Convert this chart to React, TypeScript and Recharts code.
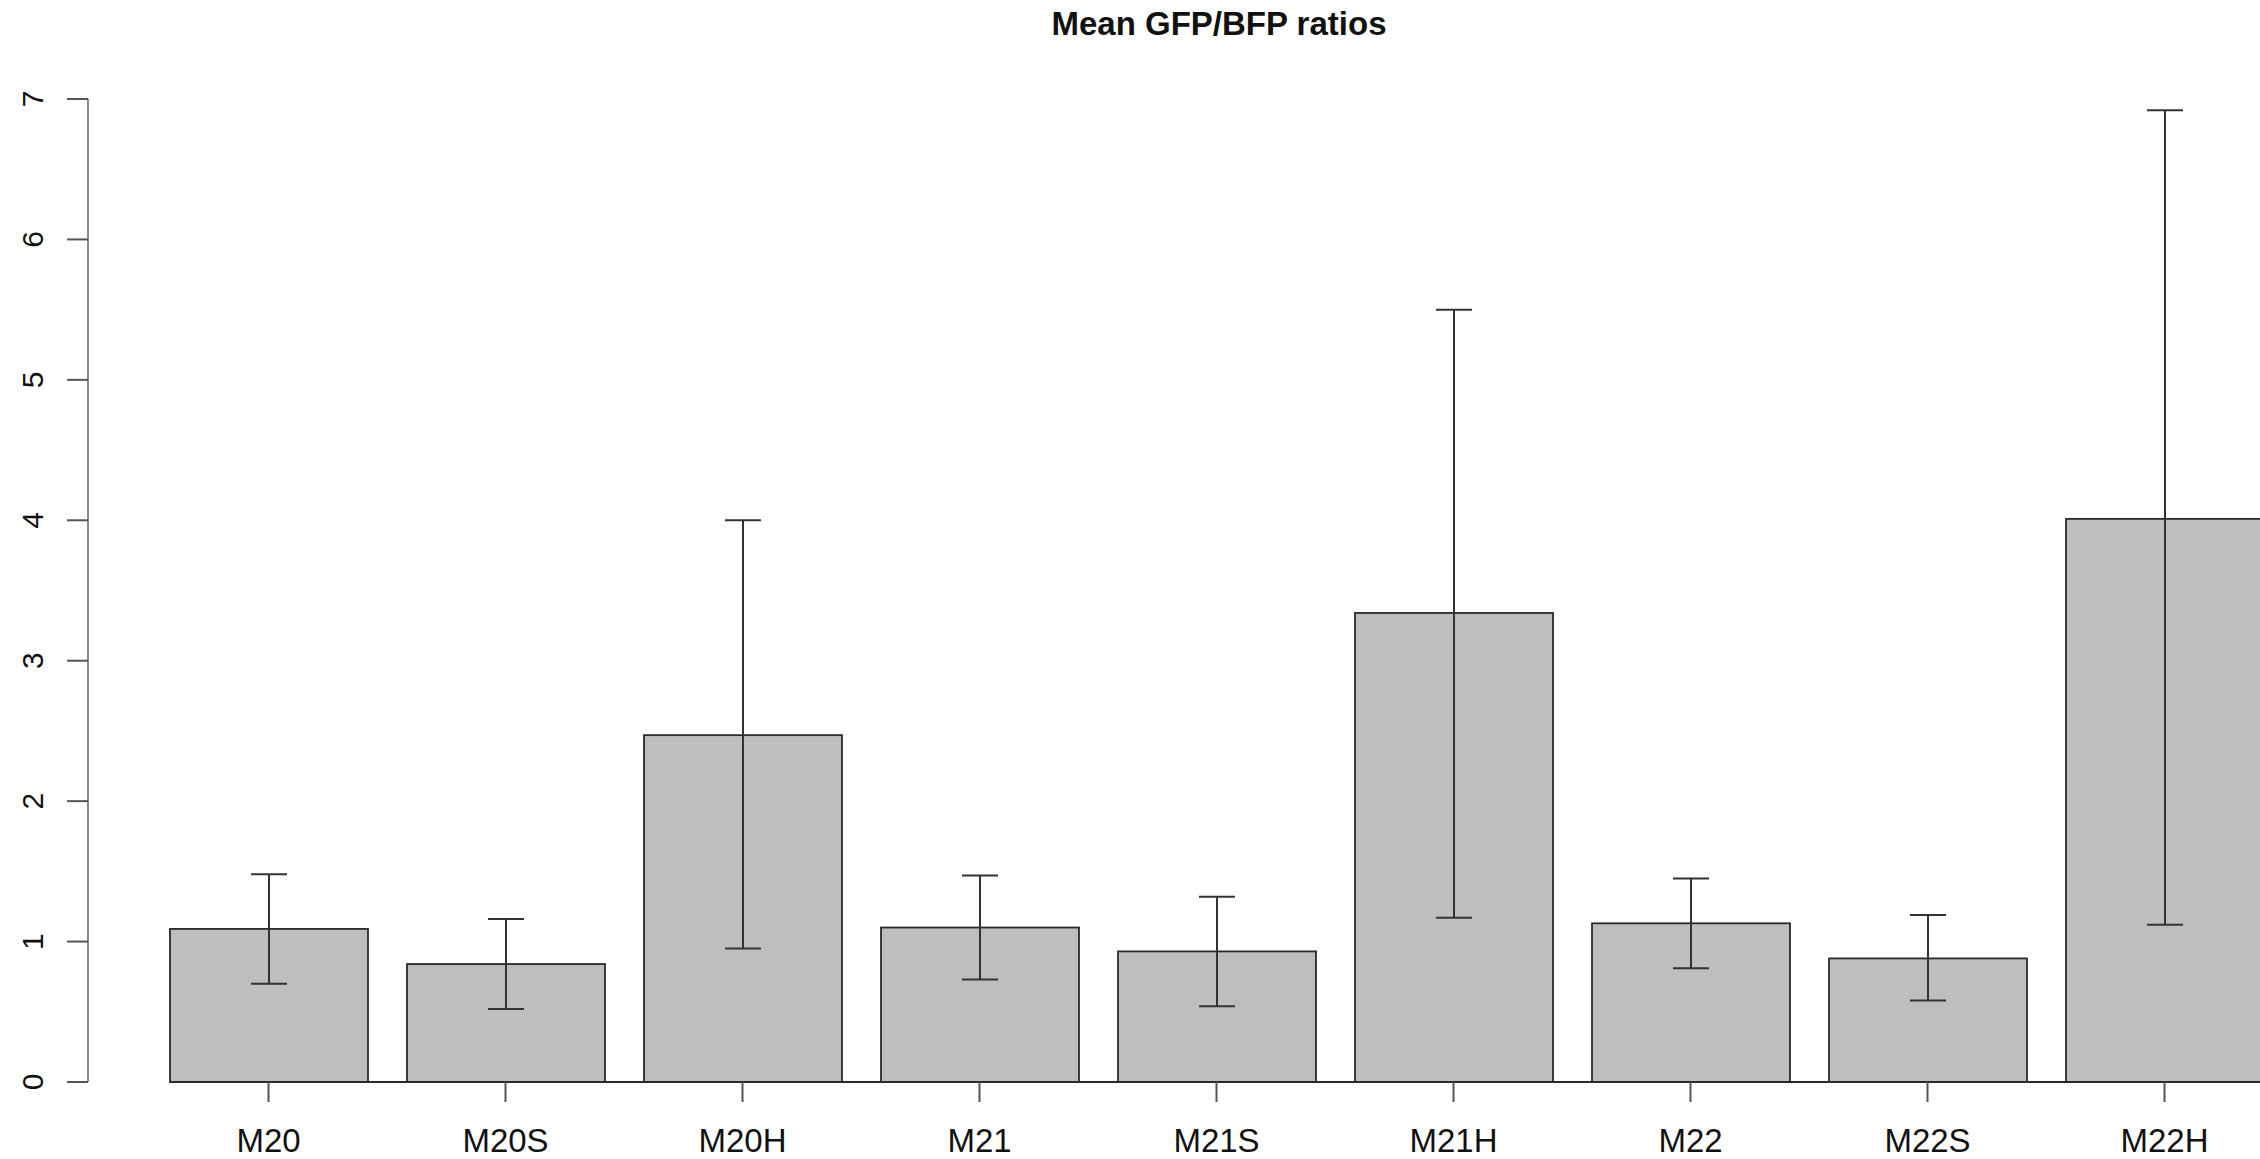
import { BarChart, Bar, XAxis, YAxis, ErrorBar } from "recharts";

const categories = ["M20", "M20S", "M20H", "M21", "M21S", "M21H", "M22", "M22S", "M22H"];
const means = [1.09, 0.84, 2.47, 1.1, 0.93, 3.34, 1.13, 0.88, 4.01];
const lowerBounds = [0.7, 0.52, 0.95, 0.73, 0.54, 1.17, 0.81, 0.58, 1.12];
const upperBounds = [1.48, 1.16, 4.0, 1.47, 1.32, 5.5, 1.45, 1.19, 6.92];
const yTicks = [0, 1, 2, 3, 4, 5, 6, 7];

const FONT = "'Liberation Sans', Arial, Helvetica, sans-serif";

const data = categories.map((name, i) => ({
  name,
  mean: means[i],
  err: [means[i] - lowerBounds[i], upperBounds[i] - means[i]],
}));

// bar rect plus the stretch of baseline up to the next bar
const BarShape = (p: any) => {
  const { x, y, width, height } = p;
  return (
    <g>
      <rect x={x} y={y} width={width} height={height} fill="#bebebe" stroke="#2a2a2a" strokeWidth={1.8} />
      <line x1={x} x2={x + width + 40} y1={y + height} y2={y + height} stroke="#2a2a2a" strokeWidth={2} />
    </g>
  );
};

const YTick = (p: any) => {
  const { x, y, payload } = p;
  return (
    <text
      x={x}
      y={y}
      transform={`rotate(-90 ${x} ${y})`}
      textAnchor="middle"
      fontFamily={FONT}
      fontSize={30}
      fill="#111"
    >
      {payload.value}
    </text>
  );
};

const XTick = (p: any) => {
  const { x, y, payload } = p;
  return (
    <text x={x} y={y} textAnchor="middle" fontFamily={FONT} fontSize={33} fill="#111">
      {payload.value}
    </text>
  );
};

export default function App() {
  return (
    <div
      style={{
        position: "fixed",
        left: 0,
        top: 0,
        width: 2260,
        height: 1159,
        overflow: "hidden",
        background: "#fff",
      }}
    >
      <svg width={2260} height={60} style={{ position: "absolute", left: 0, top: 0 }}>
        <text x={1219} y={35} textAnchor="middle" fontFamily={FONT} fontWeight="bold" fontSize={33} fill="#111">
          Mean GFP/BFP ratios
        </text>
      </svg>
      <div style={{ position: "absolute", left: 0, top: 0 }}>
        <BarChart width={2348} height={1159} data={data} margin={{ top: 99, right: 0, bottom: 0, left: 0 }}>
          <XAxis
            dataKey="name"
            padding={{ left: 62, right: 65 }}
            axisLine={false}
            tickLine={{ stroke: "#555", strokeWidth: 2 }}
            tickSize={20}
            tickMargin={50}
            height={77}
            tick={<XTick />}
            interval={0}
          />
          <YAxis
            type="number"
            domain={[0, 7]}
            ticks={yTicks}
            width={88}
            axisLine={{ stroke: "#8a8a8a", strokeWidth: 2 }}
            tickLine={{ stroke: "#555", strokeWidth: 2 }}
            tickSize={21}
            tickMargin={24}
            tick={<YTick />}
            interval={0}
          />
          <Bar dataKey="mean" barSize={198} shape={(p: any) => <BarShape {...p} />} isAnimationActive={false}>
            <ErrorBar
              dataKey="err"
              direction="y"
              width={18}
              stroke="#333"
              strokeWidth={2}
              isAnimationActive={false}
            />
          </Bar>
        </BarChart>
      </div>
    </div>
  );
}
